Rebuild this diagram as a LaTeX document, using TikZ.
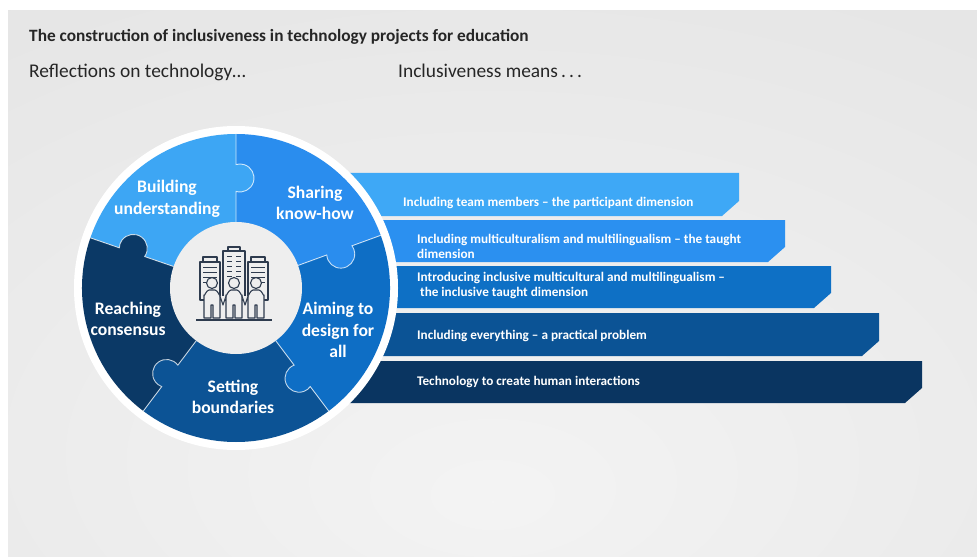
\documentclass[tikz,border=0pt]{standalone}
\usepackage{fontspec}
\setmainfont{Carlito}
\definecolor{cB}{HTML}{3DA6F4}
\definecolor{cS}{HTML}{2A8DEE}
\definecolor{cA}{HTML}{0E6EC5}
\definecolor{cT}{HTML}{0C5395}
\definecolor{cR}{HTML}{0B3966}
\definecolor{bA}{HTML}{3EA8F6}
\definecolor{bB}{HTML}{2B90F0}
\definecolor{bC}{HTML}{0E70C5}
\definecolor{bD}{HTML}{0B5395}
\definecolor{bE}{HTML}{0A3561}
\definecolor{iconc}{HTML}{2E3B4E}
\definecolor{iconbg}{HTML}{EEEEEE}
\definecolor{txt}{HTML}{262626}
\pgfdeclareradialshading{bgsh}{\pgfpoint{0bp}{-20bp}}{rgb(0bp)=(0.955,0.955,0.955); rgb(80bp)=(0.855,0.855,0.855); rgb(100bp)=(0.855,0.855,0.855)}
\tikzset{
  bartext/.style={text=white, font=\bfseries\fontsize{13.2}{15.5}\selectfont, anchor=west, inner sep=0pt, align=left},
  piecetext/.style={text=white, font=\bfseries\fontsize{17.6}{21.5}\selectfont, align=center, inner sep=0pt},
  seam/.style={draw=white, line width=0.9pt, draw opacity=0.75},
  iconline/.style={draw=iconc, line width=1.1pt, fill=iconbg, line join=round},
  iconthin/.style={draw=iconc, line width=0.7pt},
}
\begin{document}
\begin{tikzpicture}[x=1pt,y=1pt]
\useasboundingbox (0,0) rectangle (977,558);
\fill[white] (0,0) rectangle (977,558);
\shade[shading=bgsh] (8,2) rectangle (977,547);
% headings
\node[anchor=base west, inner sep=0pt, text=txt, font=\bfseries\fontsize{17.3}{20}\selectfont] (title) at (29,516) {The construction of inclusiveness in technology projects for education};
\node[anchor=base west, inner sep=0pt, text=txt, font=\fontsize{19.4}{22}\selectfont] (left) at (29,480) {Reflections on technology\dots};
\node[anchor=base west, inner sep=0pt, text=txt, font=\fontsize{19.4}{22}\selectfont] (right) at (398,480) {Inclusiveness means\,.\kern3pt.\kern3pt.};
% bars
\fill[bE] (300,197) -- (922,197) -- (922,170) -- (905,155) -- (300,155) -- cycle;
\fill[bD] (300,245) -- (879,245) -- (879,217) -- (862,202) -- (300,202) -- cycle;
\fill[bC] (300,292) -- (831,292) -- (831,265) -- (814,250) -- (300,250) -- cycle;
\fill[bB] (300,338) -- (785,338) -- (785,311) -- (768,296) -- (300,296) -- cycle;
\fill[bA] (300,385) -- (739,385) -- (739,357) -- (722,342) -- (300,342) -- cycle;
\node[bartext] (t1) at (403,355) {Including team members -- the participant dimension};
\node[bartext] (t2) at (417,311.5) {Including multiculturalism and multilingualism -- the taught\\dimension};
\node[bartext] (t3) at (417,272.5) {Introducing inclusive multicultural and multilingualism --\\\hspace*{3pt}the inclusive taught dimension};
\node[bartext] (t4) at (417,222) {Including everything -- a practical problem};
\node[bartext] (t5) at (417,176) {Technology to create human interactions};
% circle
\begin{scope}[shift={(236,270)}]
  \fill[white] (0,0) circle (162);
  \fill[cS] (0,0) -- (20:154) arc[start angle=20, end angle=90, radius=154] -- cycle;
  \fill[cB] (0,0) -- (90:154) arc[start angle=90, end angle=161, radius=154] -- cycle;
  \fill[cR] (0,0) -- (161:154) arc[start angle=161, end angle=233, radius=154] -- cycle;
  \fill[cT] (0,0) -- (233:154) arc[start angle=233, end angle=307, radius=154] -- cycle;
  \fill[cA] (0,0) -- (307:154) arc[start angle=307, end angle=380, radius=154] -- cycle;
  \foreach \ang/\col in {90/cB, 20/cS, -53/cA, 233/cT, 161/cR}{
    \fill[\col, rotate=\ang] (110pt,-4pt) circle (14pt);
  }
  \foreach \ang in {90, 20, -53, 233, 161}{
    \draw[seam, rotate=\ang] (66pt,0pt) -- (96.6pt,0pt) arc[start angle=163.4, end angle=376.6, radius=14pt] -- (154pt,0pt);
  }
  \fill[iconbg] (0,0) circle (66);
\end{scope}
% icon
\begin{scope}[shift={(234,271)}, yscale=-1]
  \draw[iconline] (-34,13) rectangle (-14,-25);
  \draw[iconline] (-31,-25) rectangle (-17,-30);
  \draw[iconline] (14,13) rectangle (34,-25);
  \draw[iconline] (17,-25) rectangle (31,-30);
  \draw[iconline] (-11,13) rectangle (11,-36);
  \draw[iconline] (-6,-36) rectangle (6,-40);
  \foreach \yy in {-20,-15,-10,-5}{
    \draw[iconthin] (-31,\yy) -- (-17,\yy);
    \draw[iconthin] (17,\yy) -- (31,\yy);
  }
  \foreach \yy in {-31,-26,-21,-16,-11}{
    \draw[iconthin] (-7,\yy) -- (-2,\yy);
    \draw[iconthin] (2,\yy) -- (7,\yy);
  }
  \foreach \cx in {-22,0,22}{
    \draw[iconline] (\cx-8,31) -- (\cx-8,8) to[out=90,in=180] (\cx-3,3) -- (\cx+3,3) to[out=0,in=90] (\cx+8,8) -- (\cx+8,31) -- (\cx+1,31) -- (\cx+1,18) -- (\cx-1,18) -- (\cx-1,31) -- cycle;
    \draw[iconline] (\cx,-4) circle (5.5);
  }
  \foreach \hx in {-11,11}{
    \draw[iconline] (\hx-3,9) -- (\hx,18) -- (\hx+3,9);
  }
  \draw[draw=iconc, line width=1.4pt] (-38,33) -- (38,33);
\end{scope}
% piece labels
\node[piecetext] (p1) at (167,359) {Building\\understanding};
\node[piecetext] (p2) at (315,355) {Sharing\\know-how};
\node[piecetext] (p3) at (338,228) {Aiming to\\design for\\all};
\node[piecetext] (p4) at (128,239) {Reaching\\consensus};
\node[piecetext] (p5) at (233,161) {Setting\\boundaries};
\end{tikzpicture}
\end{document}
